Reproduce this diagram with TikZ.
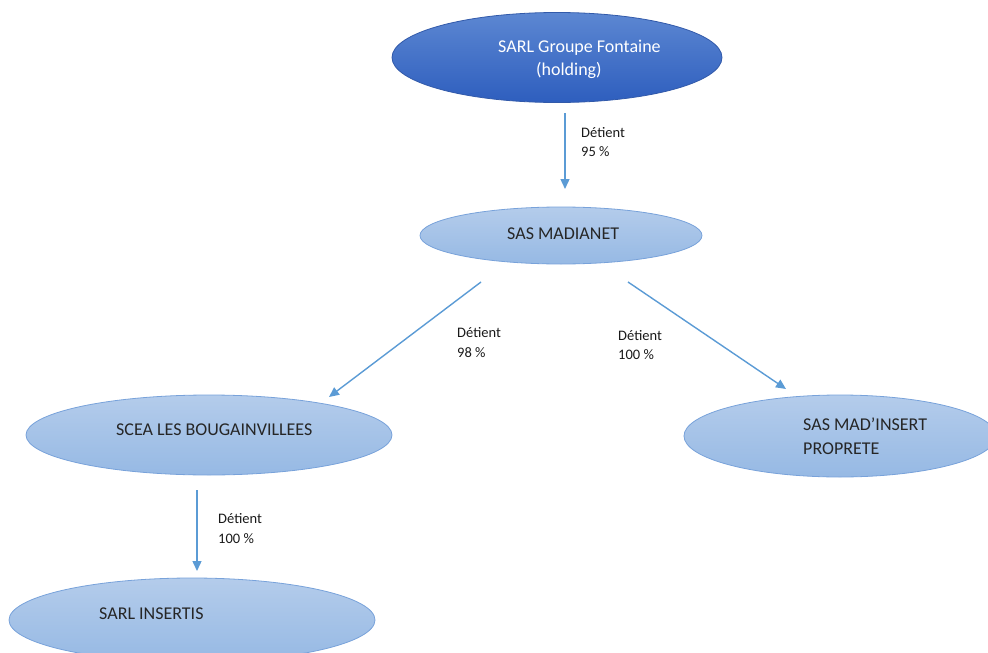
\documentclass[tikz,border=0pt]{standalone}
\usepackage{fontspec}
\setmainfont{Carlito}
\usetikzlibrary{shapes.geometric,arrows.meta}
\definecolor{arrowblue}{RGB}{91,155,213}
\definecolor{lighttop}{RGB}{180,204,235}
\definecolor{lightbot}{RGB}{150,185,228}
\definecolor{lightline}{RGB}{120,162,218}
\definecolor{darktop}{RGB}{92,135,210}
\definecolor{darkbot}{RGB}{46,94,190}
\definecolor{darkline}{RGB}{50,90,170}
\tikzset{
  lightell/.style={ellipse,draw=lightline,line width=0.8pt,top color=lighttop,bottom color=lightbot,inner sep=0pt},
  darkell/.style={ellipse,draw=darkline,line width=0.8pt,top color=darktop,bottom color=darkbot,inner sep=0pt},
  maintxt/.style={anchor=base west,inner sep=0pt,font=\fontsize{18}{22}\selectfont,text=black!85},
  lbl/.style={anchor=base west,inner sep=0pt,font=\fontsize{14.5}{17}\selectfont,text=black!90},
  conn/.style={draw=arrowblue,line width=1.4pt,-{Triangle[length=10pt,width=9pt]}}
}
\begin{document}
\begin{tikzpicture}[x=1pt,y=-1pt]
\useasboundingbox (0,0) rectangle (988,653);
% ellipses
\node[darkell,minimum width=330pt,minimum height=90pt] (top) at (557,57.5) {};
\node[lightell,minimum width=282pt,minimum height=57pt] (mad) at (561,235.5) {};
\node[lightell,minimum width=366pt,minimum height=80pt] (scea) at (209,435) {};
\node[lightell,minimum width=312pt,minimum height=82pt] (ins) at (840,436) {};
\node[lightell,minimum width=366pt,minimum height=84pt] (sarl) at (192,620) {};
% texts
\node[maintxt,text=white] (t1) at (498,52) {SARL Groupe Fontaine};
\node[maintxt,text=white] (t2) at (536,75) {(holding)};
\node[maintxt] (t3) at (507,239) {SAS MADIANET};
\node[maintxt] (t4) at (116,435) {SCEA LES BOUGAINVILLEES};
\node[maintxt] (t5) at (803,430) {SAS MAD’INSERT};
\node[maintxt] (t6) at (803,454) {PROPRETE};
\node[maintxt] (t7) at (99,619) {SARL INSERTIS};
% arrow end points
\coordinate (a1s) at (565,113);
\coordinate (a1e) at (565,189);
\coordinate (a2s) at (481,282);
\coordinate (a2e) at (329,397);
\coordinate (a3s) at (628,282);
\coordinate (a3e) at (786,389);
\coordinate (a4s) at (197,490);
\coordinate (a4e) at (197,571);
\draw[conn] (a1s) -- (a1e);
\draw[conn] (a2s) -- (a2e);
\draw[conn] (a3s) -- (a3e);
\draw[conn] (a4s) -- (a4e);
% labels
\node[lbl] (l1a) at (581,137) {Détient};
\node[lbl] (l1b) at (581,156) {95 \%};
\node[lbl] (l2a) at (457,337) {Détient};
\node[lbl] (l2b) at (457,357) {98 \%};
\node[lbl] (l3a) at (618,340) {Détient};
\node[lbl] (l3b) at (618,359) {100 \%};
\node[lbl] (l4a) at (218,523) {Détient};
\node[lbl] (l4b) at (218,543) {100 \%};
\end{tikzpicture}
\end{document}
